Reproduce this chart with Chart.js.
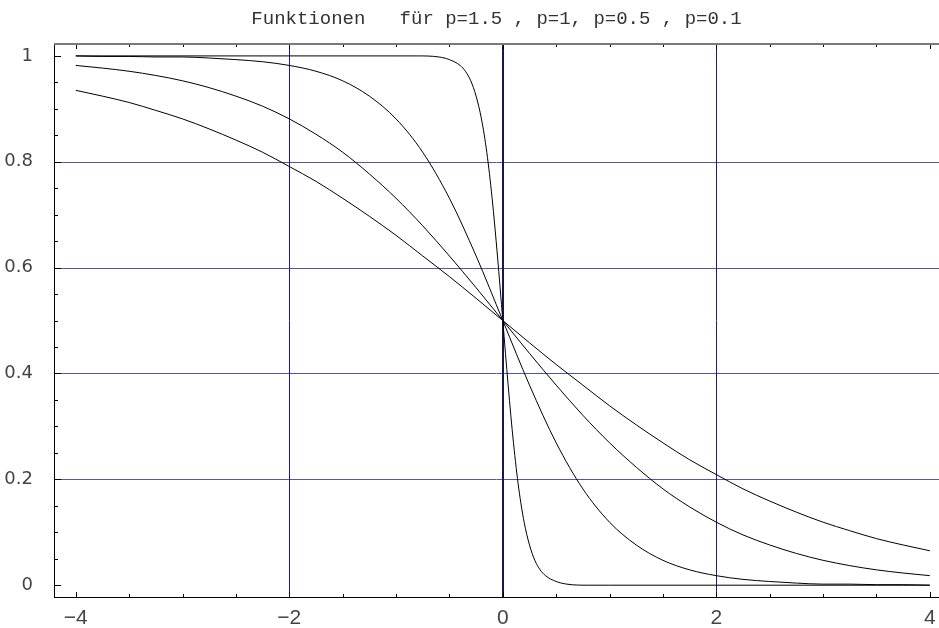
<!DOCTYPE html>
<html>
<head>
<meta charset="utf-8">
<script src="https://cdn.jsdelivr.net/npm/chart.js@4.4.1/dist/chart.umd.min.js"></script>
<style>
html, body { margin: 0; padding: 0; background: #fff; }
#wrap { width: 939px; height: 628px; }
</style>
</head>
<body>
<div id="wrap"><canvas id="kurven" width="939" height="628"></canvas></div>
<script>
// x positions (wide curves and the steep p=0.1 one)
xWide = [-4, -3.75, -3.5, -3.25, -3, -2.75, -2.5, -2.25, -2, -1.75, -1.5, -1.25, -1, -0.75, -0.5, -0.25,
         0, 0.25, 0.5, 0.75, 1, 1.25, 1.5, 1.75, 2, 2.25, 2.5, 2.75, 3, 3.25, 3.5, 3.75, 4];
p15 = [0.935, 0.924, 0.912, 0.897, 0.881, 0.862, 0.841, 0.818, 0.791, 0.763, 0.731, 0.697, 0.661, 0.622, 0.583, 0.542,
       0.5, 0.458, 0.417, 0.378, 0.339, 0.303, 0.269, 0.237, 0.209, 0.182, 0.159, 0.138, 0.119, 0.103, 0.088, 0.076, 0.065];
p1 = [0.982, 0.977, 0.971, 0.963, 0.953, 0.940, 0.924, 0.905, 0.881, 0.852, 0.818, 0.777, 0.731, 0.679, 0.622, 0.562,
      0.5, 0.438, 0.378, 0.321, 0.269, 0.223, 0.182, 0.148, 0.119, 0.095, 0.076, 0.060, 0.047, 0.037, 0.029, 0.023, 0.018];
p05 = [1.000, 0.999, 0.999, 0.998, 0.998, 0.996, 0.993, 0.989, 0.982, 0.971, 0.953, 0.924, 0.881, 0.818, 0.731, 0.622,
       0.5, 0.378, 0.269, 0.182, 0.119, 0.076, 0.047, 0.029, 0.018, 0.011, 0.007, 0.004, 0.002, 0.002, 0.001, 0.001, 0.000];
xNarrow = [-4, -2, -1, -0.8, -0.6, -0.5, -0.4, -0.35, -0.3, -0.25, -0.2, -0.15, -0.1, -0.05,
           0, 0.05, 0.1, 0.15, 0.2, 0.25, 0.3, 0.35, 0.4, 0.5, 0.6, 0.8, 1, 2, 4];
p01 = [1, 1, 1, 1.000, 0.998, 0.993, 0.982, 0.971, 0.953, 0.924, 0.881, 0.818, 0.731, 0.622,
       0.5, 0.378, 0.269, 0.182, 0.119, 0.076, 0.047, 0.029, 0.018, 0.007, 0.002, 0, 0, 0, 0];

xMajorTicks = [-4, -2, 0, 2, 4];
xMinorTicks = [-3.5, -3, -2.5, -1.5, -1, -0.5, 0.5, 1, 1.5, 2.5, 3, 3.5];
yMajorTicks = [0, 0.2, 0.4, 0.6, 0.8, 1];
yMinorTicks = [0.05, 0.1, 0.15, 0.25, 0.3, 0.35, 0.45, 0.5, 0.55, 0.65, 0.7, 0.75, 0.85, 0.9, 0.95];
xGrid = [-2, 2];
xNullLinie = [0];
yGrid = [0.2, 0.4, 0.6, 0.8];

titel = 'Funktionen   f\u00fcr p=1.5 , p=1, p=0.5 , p=0.1';

toPoints = function(xs, ys) {
    return xs.map((x, i) => ({x: x, y: ys[i]}));
}

// blue grid + dark zero line, under the curves
gitter = {
    id: 'gitter',
    beforeDatasetsDraw(chart) {
        const c = chart.ctx, a = chart.chartArea;
        const sx = chart.scales.x, sy = chart.scales.y;
        c.save();
        c.lineWidth = 1;
        c.strokeStyle = '#5454ac';
        c.beginPath();
        yGrid.forEach(v => {
            const py = Math.round(sy.getPixelForValue(v)) + 0.5;
            c.moveTo(a.left, py); c.lineTo(a.right, py);
        });
        c.stroke();
        c.strokeStyle = '#1c1c88';
        c.beginPath();
        xGrid.forEach(v => {
            const px = Math.round(sx.getPixelForValue(v)) + 0.5;
            c.moveTo(px, a.top); c.lineTo(px, a.bottom);
        });
        c.stroke();
        c.strokeStyle = '#161650';
        c.lineWidth = 2;
        c.beginPath();
        xNullLinie.forEach(v => {
            const px = Math.round(sx.getPixelForValue(v));
            c.moveTo(px, a.top); c.lineTo(px, a.bottom);
        });
        c.stroke();
        c.restore();
    }
}

// Mathematica style: ticks pointing into the frame, grey top edge
innenTicks = {
    id: 'innenTicks',
    afterDraw(chart) {
        const c = chart.ctx, a = chart.chartArea;
        const sx = chart.scales.x, sy = chart.scales.y;
        c.save();
        c.strokeStyle = '#000';
        c.lineWidth = 1;
        c.beginPath();
        xMajorTicks.forEach(v => {
            const px = Math.round(sx.getPixelForValue(v)) + 0.5;
            c.moveTo(px, a.bottom); c.lineTo(px, a.bottom - 5);
            c.moveTo(px, a.top); c.lineTo(px, a.top + 5);
        });
        xMinorTicks.forEach(v => {
            const px = Math.round(sx.getPixelForValue(v)) + 0.5;
            c.moveTo(px, a.bottom); c.lineTo(px, a.bottom - 3);
            c.moveTo(px, a.top); c.lineTo(px, a.top + 3);
        });
        yMajorTicks.forEach(v => {
            const py = Math.round(sy.getPixelForValue(v)) + 0.5;
            c.moveTo(a.left, py); c.lineTo(a.left + 7, py);
        });
        yMinorTicks.forEach(v => {
            const py = Math.round(sy.getPixelForValue(v)) + 0.5;
            c.moveTo(a.left, py); c.lineTo(a.left + 4, py);
        });
        c.stroke();
        c.strokeStyle = '#7a7a7a';
        c.lineWidth = 2;
        c.beginPath();
        c.moveTo(a.left, a.top); c.lineTo(a.right, a.top);
        c.stroke();
        c.restore();
    }
}

linie = function(daten) {
    return {
        data: daten,
        borderColor: '#000',
        borderWidth: 1,
        pointRadius: 0,
        fill: false,
        cubicInterpolationMode: 'monotone'
    }
}

const kurven = new Chart(document.getElementById('kurven').getContext('2d'), {
    type: 'line',
    data: {
        datasets: [
            linie(toPoints(xWide, p15)),
            linie(toPoints(xWide, p1)),
            linie(toPoints(xWide, p05)),
            linie(toPoints(xNarrow, p01))
        ]
    },
    options: {
        responsive: false,
        animation: false,
        devicePixelRatio: 1,
        layout: { padding: 0 },
        plugins: {
            legend: { display: false },
            tooltip: { enabled: false },
            title: {
                display: true,
                text: titel,
                fullSize: false,
                color: '#333',
                font: { family: 'Liberation Mono', size: 19, weight: 'normal', lineHeight: 1.2 },
                padding: { top: 8, bottom: 13.2 }
            }
        },
        scales: {
            x: {
                type: 'linear',
                min: -4.204,
                max: 4.086,
                afterBuildTicks: s => { s.ticks = xMajorTicks.map(v => ({value: v})); },
                afterFit: s => { s.height = 31; s.paddingLeft = 0; s.paddingRight = 0; },
                ticks: {
                    color: '#444',
                    padding: 1,
                    font: { family: "'Liberation Sans', 'DejaVu Sans'", size: 21 },
                    callback: v => v < 0 ? '\u2212' + Math.abs(v) : String(v)
                },
                grid: { display: false },
                border: { display: true, color: '#000', width: 1 }
            },
            y: {
                type: 'linear',
                min: -0.0223,
                max: 1.0225,
                afterBuildTicks: s => { s.ticks = yMajorTicks.map(v => ({value: v})); },
                afterFit: s => { s.width = 54; s.paddingTop = 0; s.paddingBottom = 0; },
                ticks: {
                    color: '#444',
                    padding: 13,
                    font: { family: 'DejaVu Sans', size: 18 },
                    callback: v => String(v)
                },
                grid: { display: false },
                border: { display: true, color: '#000', width: 1 }
            }
        }
    },
    plugins: [gitter, innenTicks]
})
</script>
</body>
</html>
